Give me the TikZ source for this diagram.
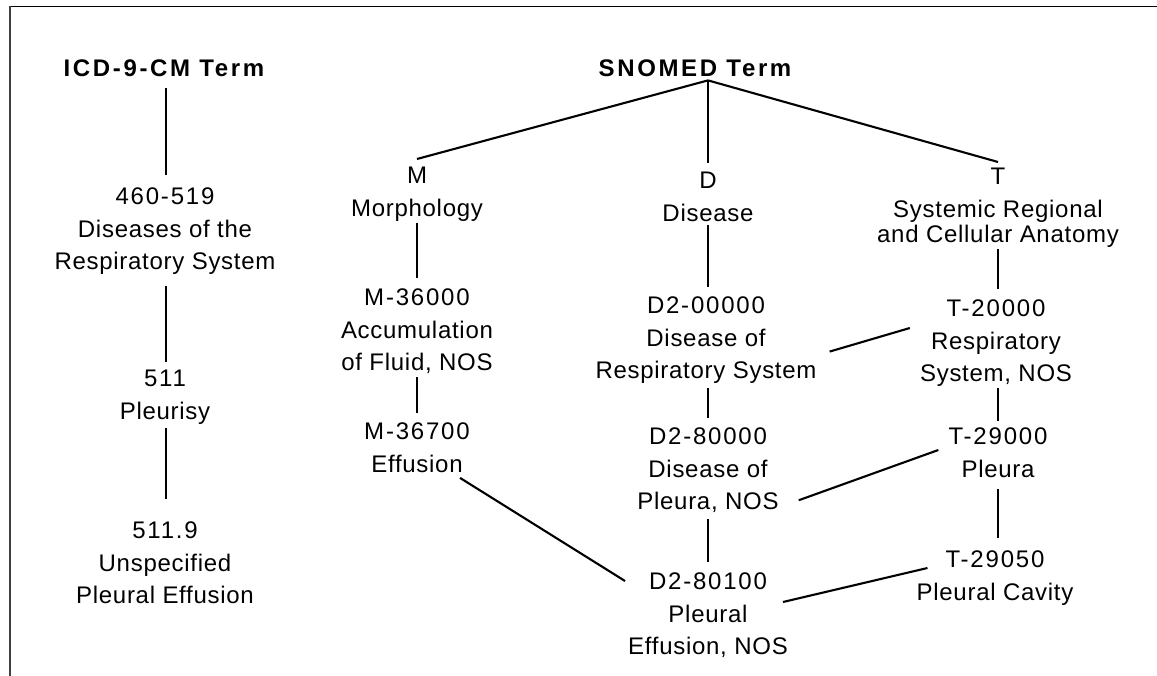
\documentclass[tikz,border=0pt]{standalone}
\usepackage{fontspec}
\setmainfont{Liberation Sans}
\newfontfamily\labelfont{Liberation Sans}[LetterSpace=3]
\newfontfamily\codefont{Liberation Sans}[LetterSpace=7.5]
\newfontfamily\headfont{Liberation Sans}[LetterSpace=11]
\newcommand{\code}[1]{{\codefont #1}}

\tikzset{
  lbl/.style={align=center, inner sep=0pt, anchor=north,
    font=\labelfont\fontsize{24}{32.5}\selectfont},
  head/.style={font=\headfont\bfseries\fontsize{24}{30}\selectfont},
  link/.style={line width=2.1pt},
  frame/.style={line width=1.8pt}
}

\begin{document}
\begin{tikzpicture}[x=1pt, y=-1pt]
\useasboundingbox (0,0) rectangle (1157,676);

% open frame: top and left edges
\draw[frame] (1157,6.5) -- (10,6.5);
\draw[frame, black!75] (10,6.5) -- (10,676);

% ICD-9-CM hierarchy
\node[lbl, head] (icd) at (164,60) {ICD-9-CM Term};
\node[lbl] (c460) at (165,188) {\code{460-519}\\Diseases of the\\Respiratory System};
\node[lbl] (c511) at (165,370) {\code{511}\\Pleurisy};
\node[lbl] (c5119) at (165,522) {\code{511.9}\\Unspecified\\Pleural Effusion};

% SNOMED axes
\node[lbl, head] (sno) at (695,60) {SNOMED Term};
\node[lbl] (m) at (417,167) {M\\Morphology};
\node[lbl] (d) at (708,172) {D\\Disease};
\node[lbl] (t) at (998,168) {T\\Systemic Regional\\[-7.5pt]and Cellular Anatomy};

% morphology branch
\node[lbl] (m360) at (417,289) {\code{M-36000}\\Accumulation\\of Fluid, NOS};
\node[lbl] (m367) at (417,423) {\code{M-36700}\\Effusion};

% disease branch
\node[lbl] (d200) at (706,297) {\code{D2-00000}\\Disease of\\Respiratory System};
\node[lbl] (d280) at (708,428) {\code{D2-80000}\\Disease of\\Pleura, NOS};
\node[lbl] (d281) at (708,573) {\code{D2-80100}\\Pleural\\Effusion, NOS};

% topography branch
\node[lbl] (t200) at (996,300) {\code{T-20000}\\Respiratory\\System, NOS};
\node[lbl] (t290) at (998,428) {\code{T-29000}\\Pleura};
\node[lbl] (t2905) at (995,551) {\code{T-29050}\\Pleural Cavity};

% ICD chain
\draw[link] ([xshift=2pt, yshift=-11pt]icd.south) -- ([xshift=1pt, yshift=13pt]c460.north);
\draw[link] ([xshift=1pt, yshift=-11pt]c460.south) -- ([xshift=1pt, yshift=8pt]c511.north);
\draw[link] ([xshift=1pt, yshift=-4pt]c511.south) -- ([xshift=1pt, yshift=23pt]c5119.north);

% SNOMED fan-out
\draw[link] ([xshift=13pt, yshift=-3pt]sno.south) -- ([yshift=8pt]m.north);
\draw[link] ([xshift=13pt, yshift=-3pt]sno.south) -- ([yshift=9pt]d.north);
\draw[link] ([xshift=13pt, yshift=-3pt]sno.south) -- ([yshift=6pt]t.north);

% vertical chains
\draw[link] ([yshift=-2pt]m.south) -- ([yshift=11pt]m360.north);
\draw[link] ([yshift=-3pt]m360.south) -- ([yshift=10pt]m367.north);
\draw[link] ([yshift=-3pt]d.south) -- ([xshift=2pt, yshift=10pt]d200.north);
\draw[link] ([xshift=2pt, yshift=-4pt]d200.south) -- ([yshift=10pt]d280.north);
\draw[link] ([yshift=-6pt]d280.south) -- ([yshift=11pt]d281.north);
\draw[link] ([yshift=-2pt]t.south) -- ([xshift=2pt, yshift=11pt]t200.north);
\draw[link] ([xshift=2pt, yshift=-1pt]t200.south) -- ([yshift=7pt]t290.north);
\draw[link] ([yshift=-11pt]t290.south) -- ([xshift=3pt, yshift=13pt]t2905.north);

% cross links
\draw[link] ([shift={(43,5)}]m367.south) -- ([shift={(-3,8)}]d281.north west);
\draw[link] ([shift={(13,11)}]d200.east) -- ([shift={(-10,28)}]t200.north west);
\draw[link] ([shift={(20,-13)}]d280.south east) -- ([shift={(-10,22)}]t290.north west);
\draw[link] ([shift={(-5,29)}]d281.north east) -- ([shift={(11,17)}]t2905.north west);
\end{tikzpicture}
\end{document}
